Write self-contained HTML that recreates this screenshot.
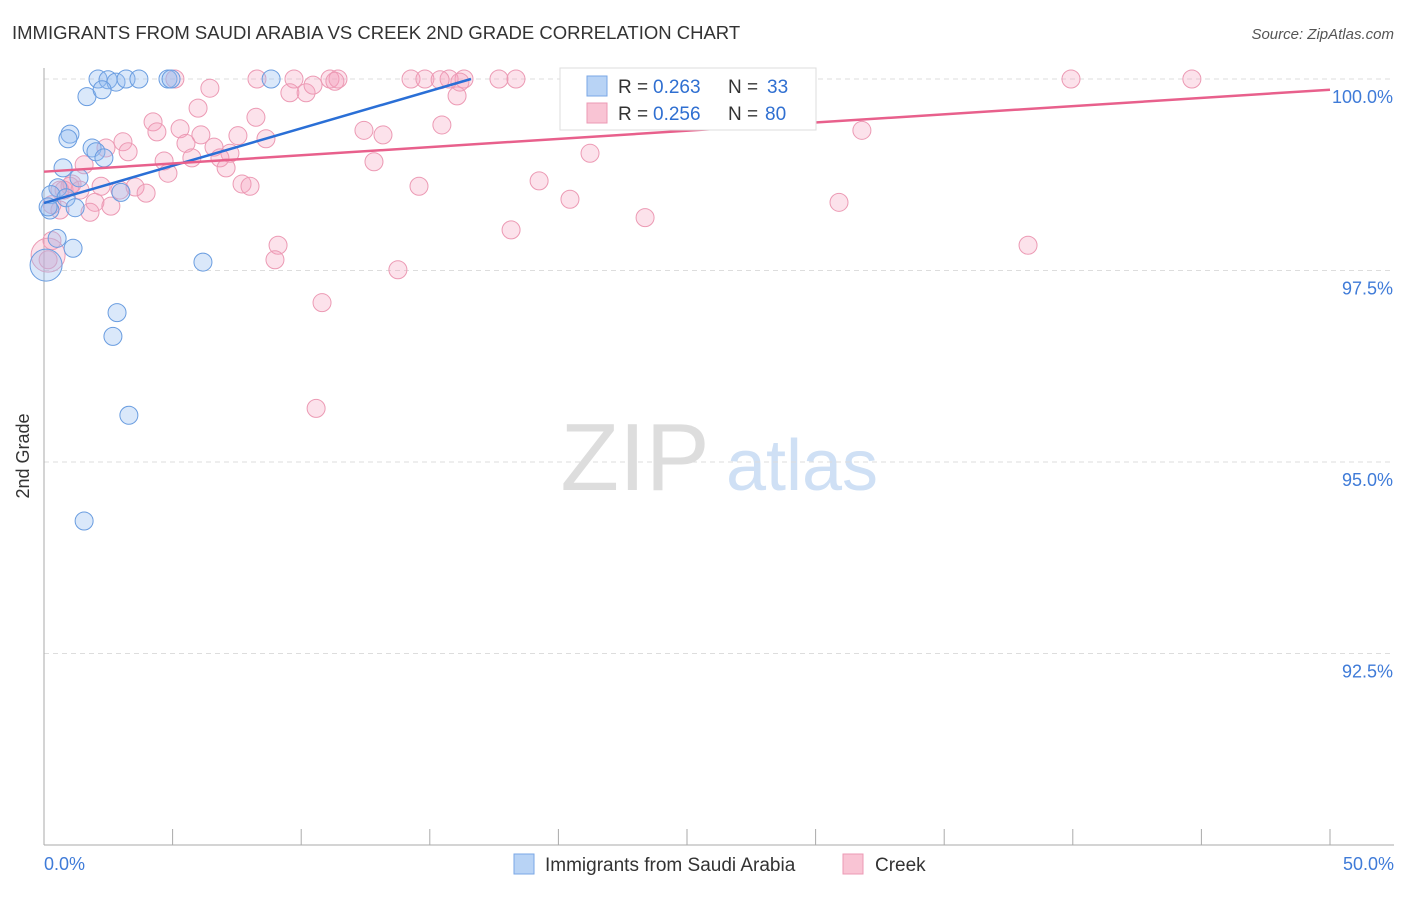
<!DOCTYPE html>
<html><head><meta charset="utf-8"><style>
body{margin:0;background:#fff;font-family:"Liberation Sans",sans-serif;}
svg text{font-family:"Liberation Sans",sans-serif;}
</style></head><body>
<svg id="chart" width="1406" height="892" xmlns="http://www.w3.org/2000/svg">
<text x="12" y="39" font-size="18.5" fill="#333">IMMIGRANTS FROM SAUDI ARABIA VS CREEK 2ND GRADE CORRELATION CHART</text>
<text x="1394" y="39" font-size="15" fill="#555" text-anchor="end" font-style="italic">Source: ZipAtlas.com</text>
<text x="29" y="456" font-size="18" fill="#333" text-anchor="middle" transform="rotate(-90 29 456)">2nd Grade</text>
<g><text x="635" y="490" font-size="96" fill="#ddd" font-family="Liberation Serif" text-anchor="middle">ZIP</text><text x="802" y="490" font-size="72" fill="#cfe0f5" text-anchor="middle">atlas</text></g>
<g id="grid"></g><g id="axes"></g><g id="points"></g><g id="trends"></g>
<g>
<rect x="560" y="68" width="256" height="62" fill="#fff" stroke="#ddd"/>
<rect x="587" y="76" width="20" height="20" fill="#b8d3f5" stroke="#7aa7e6"/>
<rect x="587" y="103" width="20" height="20" fill="#f9c4d4" stroke="#ec9ab4"/>
<text x="618" y="93" font-size="19" fill="#333">R =</text>
<text x="653" y="93" font-size="19" fill="#2f6fd1">0.263</text>
<text x="728" y="93" font-size="19" fill="#333">N =</text>
<text x="767" y="93" font-size="19" fill="#2f6fd1">33</text>
<text x="618" y="120" font-size="19" fill="#333">R =</text>
<text x="653" y="120" font-size="19" fill="#2f6fd1">0.256</text>
<text x="728" y="120" font-size="19" fill="#333">N =</text>
<text x="765" y="120" font-size="19" fill="#2f6fd1">80</text>
</g>
<g>
<rect x="514" y="854" width="20" height="20" fill="#b8d3f5" stroke="#7aa7e6"/>
<text x="545" y="871" font-size="19" fill="#333">Immigrants from Saudi Arabia</text>
<rect x="843" y="854" width="20" height="20" fill="#f9c4d4" stroke="#ec9ab4"/>
<text x="875" y="871" font-size="19" fill="#333">Creek</text>
</g>
</svg>
<script>
const yTicks=[100,97.5,95,92.5];
const yTickLabels=["100.0%","97.5%","95.0%","92.5%"];
const xTickLabels=["0.0%","50.0%"];
const blueX=[2.10,2.49,2.80,3.19,3.69,4.82,4.94,8.83,20.49,1.67,2.26,1.01,0.93,1.87,2.02,2.33,0.74,1.36,0.54,0.27,0.86,0.23,1.21,2.99,0.51,1.13,0.08,6.18,2.84,2.68,3.30,1.56,0.16];
const blueY=[100,99.99,99.96,100,100,100,100,100,100,99.77,99.86,99.28,99.22,99.10,99.05,98.97,98.84,98.71,98.58,98.49,98.45,98.29,98.32,98.52,97.92,97.79,97.57,97.61,96.95,96.64,95.61,94.23,98.33];
const blueR=[9,9,9,9,9,9,9,9,9,9,9,9,9,9,9,9,9,9,9,9,9,9,9,9,9,9,16,9,9,9,9,9,9];
const pinkX=[5.09,8.28,9.72,11.12,11.43,14.27,14.81,15.75,16.33,17.69,18.35,23.02,39.93,44.63,6.45,9.56,10.19,10.46,16.06,5.99,8.24,4.24,5.29,4.39,12.44,15.47,31.80,7.54,6.10,13.18,8.63,3.07,5.52,2.41,3.27,6.61,7.23,21.23,4.67,5.75,6.84,12.83,1.56,4.82,7.08,1.01,2.22,3.54,3.97,7.70,8.01,14.58,19.25,1.98,2.60,0.62,1.79,20.45,30.91,23.37,18.16,9.10,38.26,8.98,13.76,10.81,10.58,0.31,0.16,0.62,1.09,0.78,1.40,15.40,23.17,21.62,11.31,16.17,0.31,2.95];
const pinkY=[100,100,100,100,100,100,100,100,100,100,100,100,100,100,99.88,99.82,99.82,99.92,99.78,99.62,99.50,99.44,99.35,99.31,99.33,99.40,99.33,99.26,99.27,99.27,99.22,99.18,99.16,99.10,99.05,99.11,99.03,99.03,98.93,98.97,98.97,98.92,98.88,98.77,98.84,98.60,98.60,98.59,98.51,98.63,98.60,98.60,98.67,98.39,98.34,98.29,98.26,98.43,98.39,98.19,98.03,97.83,97.83,97.64,97.51,97.08,95.70,97.89,97.64,98.55,98.63,98.55,98.55,99.99,99.95,99.97,99.97,99.96,98.36,98.55];
const blueTrend=[[0,98.38],[16.6,100]];
const pinkTrend=[[0,98.79],[50,99.86]];
const NS="http://www.w3.org/2000/svg";
const X=v=>44+v/50*1286;
const Y=v=>79+(100-v)/2.5*191.5;
function mk(tag,attrs,parent){const e=document.createElementNS(NS,tag);for(const k in attrs)e.setAttribute(k,attrs[k]);parent.appendChild(e);return e;}
const grid=document.getElementById('grid'),axes=document.getElementById('axes');
yTicks.forEach((t,i)=>{
 const l=mk('line',{x1:44,x2:1394,y1:Y(t),y2:Y(t),stroke:'#ddd','stroke-dasharray':'5,4'},grid);
 
 
 const tx=mk('text',{x:1393,y:Y(t)+24,'font-size':18,fill:'#3f7bd8','text-anchor':'end'},axes);
 tx.textContent=yTickLabels[i];
 
 
});
const ya=mk('line',{x1:44,x2:44,y1:68,y2:845,stroke:'#aaa'},axes);


const xa=mk('line',{x1:44,x2:1394,y1:845,y2:845,stroke:'#aaa'},axes);


for(let i=0;i<=10;i++){
 const t=mk('line',{x1:X(i*5),x2:X(i*5),y1:829,y2:845,stroke:'#aaa'},axes);
 
 
}
[[0,'start',44],[50,'end',1394]].forEach((d,i)=>{
 const tx=mk('text',{x:d[2],y:870,'font-size':18,fill:'#3f7bd8','text-anchor':d[1]},axes);
 tx.textContent=xTickLabels[i];
 
 
});
const pts=document.getElementById('points');
pinkX.forEach((x,i)=>{
 const c=mk('circle',{cx:X(x),cy:Y(pinkY[i]),r:9,fill:'rgba(244,160,190,0.3)',stroke:'#ec9ab4','stroke-width':1},pts);
 
 
});
const big=mk('circle',{cx:X(0.16),cy:Y(97.7),r:17,fill:'rgba(244,160,190,0.3)',stroke:'#ec9ab4'},pts);


blueX.forEach((x,i)=>{
 const c=mk('circle',{cx:X(x),cy:Y(blueY[i]),r:blueR[i],fill:'rgba(150,190,240,0.35)',stroke:'#6a9de0','stroke-width':1},pts);
 
 
});
const tr=document.getElementById('trends');
const bt=mk('line',{x1:X(blueTrend[0][0]),y1:Y(blueTrend[0][1]),x2:X(blueTrend[1][0]),y2:Y(blueTrend[1][1]),stroke:'#2a6fd6','stroke-width':2.5},tr);


const pt=mk('line',{x1:X(pinkTrend[0][0]),y1:Y(pinkTrend[0][1]),x2:X(pinkTrend[1][0]),y2:Y(pinkTrend[1][1]),stroke:'#e8608c','stroke-width':2.5},tr);


</script>
</body></html>
